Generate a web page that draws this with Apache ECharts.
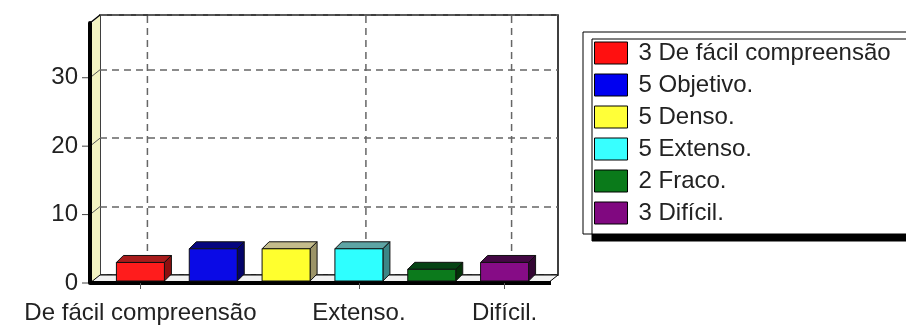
<!DOCTYPE html>
<html>
<head>
<meta charset="utf-8">
<script src="https://cdn.jsdelivr.net/npm/echarts@6/dist/echarts.min.js"></script>
<style>
html,body{margin:0;padding:0;background:#fff;}
#chart{width:906px;height:327px;}
</style>
</head>
<body>
<div id="chart"></div>
<script>
// ---- data ----
const categories = ['De fácil compreensão', 'Objetivo.', 'Denso.', 'Extenso.', 'Fraco.', 'Difícil.'];
const values = [3, 5, 5, 5, 2, 3];
const yTicks = [0, 10, 20, 30];
const shownLabels = [0, 3, 5];   // category indices that carry an x label / vertical grid line

// ---- styles ----
const frontColors = ['#ff1c1c', '#0a0ae6', '#ffff2e', '#2effff', '#0c7a1c', '#860c86'];
const topColors   = ['#a81c1c', '#050580', '#c4bc8c', '#5ea4a4', '#064414', '#440844'];
const sideColors  = ['#8c1010', '#03036a', '#9c9468', '#3c8686', '#033208', '#330633'];
const legendColors = ['#ff1010', '#0000f0', '#ffff38', '#38ffff', '#0a7a1a', '#800880'];
const YMAX = 38;
const WALL = [10, -8];   // depth of the walls
const BAR = [7, -7];     // depth of the bars
const BAR_W = 48;
const FONT = 'Liberation Sans, Arial, sans-serif';

const chart = echarts.init(document.getElementById('chart'), null, {renderer: 'canvas'});

function frameRender(params, api) {
  const p0 = api.coord([0, 0]);
  const pT = api.coord([0, YMAX]);
  const pR = api.coord([1, 0]);
  const children = [];
  // left wall
  children.push({type: 'polygon', shape: {points: [
    [p0[0] + 2, p0[1]], [pT[0] + 2, pT[1]], [pT[0] + WALL[0], pT[1] + WALL[1]], [p0[0] + WALL[0], p0[1] + WALL[1]]
  ]}, style: {fill: '#f3f3c2', stroke: null}});
  // floor
  children.push({type: 'polygon', shape: {points: [
    [p0[0], p0[1]], [pR[0], pR[1]], [pR[0] + WALL[0], pR[1] + WALL[1]], [p0[0] + WALL[0], p0[1] + WALL[1]]
  ]}, style: {fill: '#f2f2f2', stroke: '#000', lineWidth: 1}});
  // top-left slant
  children.push({type: 'line', shape: {x1: pT[0], y1: pT[1], x2: pT[0] + WALL[0], y2: pT[1] + WALL[1]},
    style: {stroke: '#000', lineWidth: 1.5}});
  // slanted tick lines and ticks
  yTicks.forEach(function (v) {
    const p = api.coord([0, v]);
    if (v > 0) {
      children.push({type: 'line', shape: {x1: p[0], y1: p[1], x2: p[0] + WALL[0], y2: p[1] + WALL[1]},
        style: {stroke: '#555', lineWidth: 1}});
    }
    children.push({type: 'line', shape: {x1: p[0] - 8, y1: p[1], x2: p[0], y2: p[1]},
      style: {stroke: '#444', lineWidth: 1}});
  });
  // front floor edge
  children.push({type: 'line', shape: {x1: p0[0], y1: p0[1], x2: pR[0] + 3, y2: pR[1]},
    style: {stroke: '#000', lineWidth: 4}});
  return {type: 'group', children: children};
}

function vGridRender(params, api) {
  const i = api.value(0);
  const b = api.coord([i, 0]);
  const t = api.coord([i, YMAX]);
  return {type: 'line', shape: {x1: b[0] + BAR[0], y1: b[1] + WALL[1], x2: t[0] + BAR[0], y2: t[1] + WALL[1]},
    style: {stroke: '#666', lineWidth: 1.5, lineDash: [7, 5]}};
}

function makeBarRender(k) {
  return function (params, api) {
    const i = api.value(0), v = api.value(1);
    const t = api.coord([i, v]);
    const b = api.coord([i, 0]);
    const x0 = t[0] - BAR_W / 2;
    const x1 = x0 + BAR_W;
    const ty = t[1], by = b[1] - 2;
    const st = {stroke: '#111', lineWidth: 1};
    return {type: 'group', children: [
      {type: 'polygon', shape: {points: [[x0, ty], [x1, ty], [x1 + BAR[0], ty + BAR[1]], [x0 + BAR[0], ty + BAR[1]]]},
        style: Object.assign({fill: topColors[k]}, st)},
      {type: 'polygon', shape: {points: [[x1, ty], [x1 + BAR[0], ty + BAR[1]], [x1 + BAR[0], by + BAR[1]], [x1, by]]},
        style: Object.assign({fill: sideColors[k]}, st)},
      {type: 'rect', shape: {x: x0, y: ty, width: BAR_W, height: by - ty},
        style: Object.assign({fill: frontColors[k]}, st)}
    ]};
  };
}

const barSeries = categories.map(function (name, k) {
  return {
    type: 'custom', name: name, xAxisIndex: 2, yAxisIndex: 2, z: 4, clip: false,
    itemStyle: {color: legendColors[k]},
    data: [[k, values[k]]],
    renderItem: makeBarRender(k),
    silent: true
  };
});

const option = {
  backgroundColor: '#fff',
  animation: false,
  grid: [
    {left: 100, top: 15, right: 348, bottom: 52, show: true, backgroundColor: '#fff', borderColor: '#000', borderWidth: 1.5},
    {left: 90, top: 23, right: 358, bottom: 44},
    {left: 104, top: 23, right: 365, bottom: 44}
  ],
  xAxis: [
    {type: 'value', gridIndex: 0, min: 0, max: 1, show: false},
    {type: 'value', gridIndex: 1, min: 0, max: 1, show: false},
    {type: 'category', gridIndex: 2, data: categories, z: 6,
      axisLine: {show: false},
      axisTick: {show: true, alignWithLabel: true, length: 6, lineStyle: {color: '#555'}},
      axisLabel: {interval: function (i) { return shownLabels.indexOf(i) >= 0; },
        fontSize: 24, fontFamily: FONT, color: '#222', margin: 18},
      splitLine: {show: false}}
  ],
  yAxis: [
    {type: 'value', gridIndex: 0, min: 0, max: YMAX, interval: 10,
      axisLine: {show: false}, axisTick: {show: false}, axisLabel: {show: false},
      splitLine: {show: true, lineStyle: {color: '#666', width: 1.5, type: [7, 5]}}},
    {type: 'value', gridIndex: 1, min: 0, max: YMAX, interval: 10, z: 6,
      axisLine: {show: true, lineStyle: {color: '#000', width: 4}},
      axisTick: {show: false},
      axisLabel: {fontSize: 24, fontFamily: FONT, color: '#222', margin: 12, showMaxLabel: false},
      splitLine: {show: false}},
    {type: 'value', gridIndex: 2, min: 0, max: YMAX, show: false}
  ],
  legend: {
    orient: 'vertical', left: 583, top: 32,
    data: categories, icon: 'rect', itemWidth: 33, itemHeight: 22, itemGap: 8,
    padding: [9, 40, 9, 11],
    backgroundColor: '#fff', borderColor: '#000', borderWidth: 1,
    shadowColor: '#000', shadowBlur: 0, shadowOffsetX: 9, shadowOffsetY: 7,
    selectedMode: false,
    itemStyle: {borderColor: '#000', borderWidth: 1},
    textStyle: {fontSize: 24, fontFamily: FONT, color: '#222', lineHeight: 22, padding: [0, 0, 0, 6]},
    formatter: function (name) { return values[categories.indexOf(name)] + ' ' + name; }
  },
  series: [
    {type: 'custom', name: '_frame', xAxisIndex: 1, yAxisIndex: 1, z: 1, clip: false, silent: true,
      data: [[0]], renderItem: frameRender},
    {type: 'custom', name: '_vgrid', xAxisIndex: 2, yAxisIndex: 2, z: 1, clip: false, silent: true,
      data: shownLabels.map(function (i) { return [i]; }), renderItem: vGridRender}
  ].concat(barSeries)
};

chart.setOption(option);
</script>
</body>
</html>
